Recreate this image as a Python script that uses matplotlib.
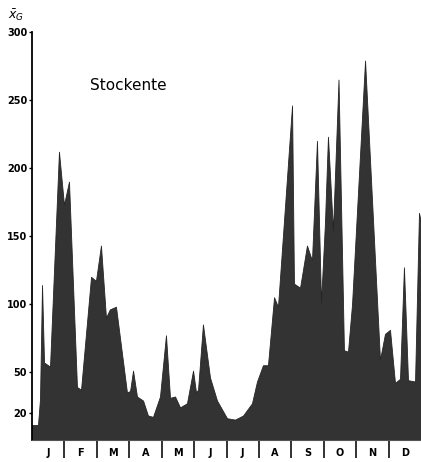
'''Stockente - Jahresverlauf der mittleren Anzahl (x_G)'''
import matplotlib
matplotlib.use("Agg")
import matplotlib.pyplot as plt

tage = [0, 5.6, 7.5, 9.4, 11.3, 16.9, 25.3, 30.0, 34.7, 42.2, 46.0,
        55.4, 60.0, 64.7, 69.4, 73.0, 78.8, 89.1, 92.0, 94.8, 98.5,
        104.2, 108.8, 113.5, 120.1, 125.7, 129.5, 134.2, 138.9, 145.4, 151.1,
        153.9, 155.8, 160.4, 167.0, 173.6, 183.0, 190.5, 198.0, 206.4, 211.1,
        216.7, 221.4, 227.1, 230.8, 244.0, 245.8, 251.5, 258.0, 262.7, 267.4,
        271.2, 274.9, 277.7, 282.4, 287.6, 292.7, 296.5, 300.3, 312.5, 326.5,
        331.2, 335.9, 340.6, 345.3, 349.0, 352.8, 359.4, 363.1, 365.0]
werte = [11, 11, 30, 114, 57, 54, 212, 173, 190, 39, 37,
         120, 117, 143, 90, 96, 98, 35, 36, 51, 32,
         29, 18, 17, 32, 77, 31, 32, 24, 27, 51,
         35, 37, 85, 46, 29, 16, 15, 18, 27, 43,
         55, 55, 105, 98, 246, 115, 112, 143, 132, 220,
         101, 160, 223, 154, 265, 66, 65, 100, 279, 59,
         78, 81, 42, 45, 127, 44, 43, 167, 160]

monate = ['J', 'F', 'M', 'A', 'M', 'J', 'J', 'A', 'S', 'O', 'N', 'D']
y_ticks = [20, 50, 100, 150, 200, 250, 300]

fig = plt.figure(figsize=(4.21, 4.62), dpi=100)
ax = fig.add_axes([32 / 421, 1 - 440 / 462, 1 - 32 / 421, (440 - 32) / 462])

ax.fill_between(tage, werte, 0, color='#333333', edgecolor='#262626', linewidth=0.6)
ax.set_xlim(0, 365)
ax.set_ylim(0, 300)

# y-Achse
ax.set_yticks(y_ticks)
ax.tick_params(axis='y', direction='out', length=2.5, width=1, labelsize=7, pad=1)
for lab in ax.get_yticklabels():
    lab.set_fontweight('bold')

# x-Achse: Trennstriche zwischen den Monaten, Buchstaben in der Mitte
grenzen = [i * 365 / 12 for i in range(1, 12)]
mitten = [(i + 0.5) * 365 / 12 for i in range(12)]
ax.set_xticks(grenzen)
ax.set_xticklabels([])
ax.set_xticks(mitten, minor=True)
ax.set_xticklabels(monate, minor=True, fontsize=7, fontweight='bold')
ax.tick_params(axis='x', which='major', direction='out', length=13, width=1.3, color='#222222')
ax.tick_params(axis='x', which='minor', length=0, pad=6)

for s in ['top', 'right']:
    ax.spines[s].set_visible(False)
ax.spines['bottom'].set_color('#555555')
ax.spines['bottom'].set_linewidth(0.8)
ax.spines['left'].set_linewidth(1.3)

ax.text(54.5, 261, 'Stockente', fontsize=11, va='center', ha='left')
fig.text(8 / 421, 1 - 15 / 462, r'$\bar{x}_G$', fontsize=9, va='center', ha='left')

fig.savefig('out.png', dpi=100)
